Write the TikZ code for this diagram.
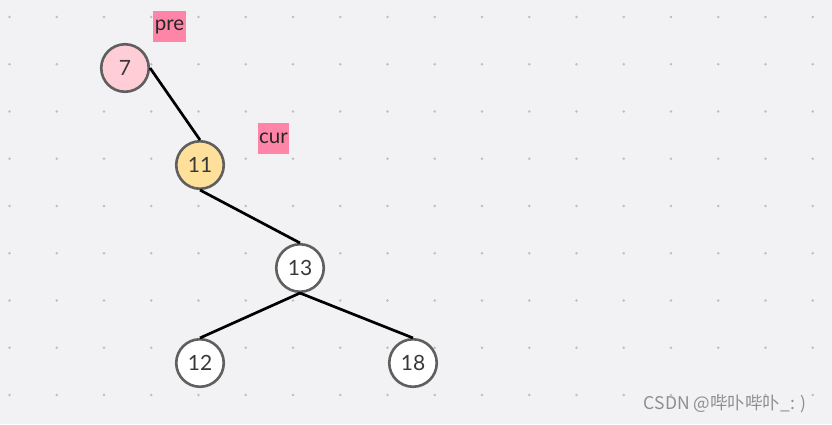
\documentclass[tikz,border=0pt]{standalone}
\usepackage{fontspec}
\setmainfont{Lato}
\newfontfamily\cjk{Noto Sans CJK SC}
\usetikzlibrary{positioning}

\definecolor{boardbg}{HTML}{F2F2F4}
\definecolor{gridgray}{HTML}{BEBEC2}
\definecolor{ringgray}{HTML}{5F5F5F}
\definecolor{prefill}{HTML}{FFCDD6}
\definecolor{curfill}{HTML}{FFE09A}
\definecolor{tagpink}{HTML}{FF85A8}
\definecolor{markgray}{HTML}{8E8E8E}

\tikzset{
  tnode/.style = {circle, draw=ringgray, line width=2.6pt, fill=white,
                  minimum size=47.5pt, inner sep=0pt, text=black!78,
                  font=\fontsize{21}{21}\selectfont},
  tag/.style   = {fill=tagpink, inner xsep=1.5pt, minimum height=31pt,
                  text=black!85, font=\fontsize{20.5}{20.5}\selectfont},
  link/.style  = {line width=2.7pt, black},
}

\begin{document}
\begin{tikzpicture} [x=1pt, y=-1pt]
    \fill [boardbg] (0,0) rectangle (832,424);
    \useasboundingbox (0,0) rectangle (832,424);

    % dotted board
    \foreach \i in {0,...,17}
      \foreach \j in {0,...,8}
        \fill [gridgray] (9.5+47.25*\i, 17+47.25*\j) circle (1.3pt);

    \node (n7)  [tnode, fill=prefill] at (125,68)  {7};
    \node (n11) [tnode, fill=curfill] at (200,165) {11};
    \node (n13) [tnode] at (300,268) {13};
    \node (n12) [tnode] at (200,363) {12};
    \node (n18) [tnode] at (413,363) {18};

    \node (pre) [tag] at (169.5,26.5) {pre};
    \node (cur) [tag] at (273.5,138.5) {cur};

    \path [link] (n7.east)   edge (n11.north);
    \path [link] (n11.south) edge (n13.north);
    \path [link] (n13.south) edge (n12.north);
    \path [link] (n13.south) edge (n18.north);

    \node (mark) [text=markgray, font=\fontsize{17.5}{17.5}\selectfont\cjk] at (725,404) {CSDN @哔卟哔卟\_: )};
\end{tikzpicture}
\end{document}
